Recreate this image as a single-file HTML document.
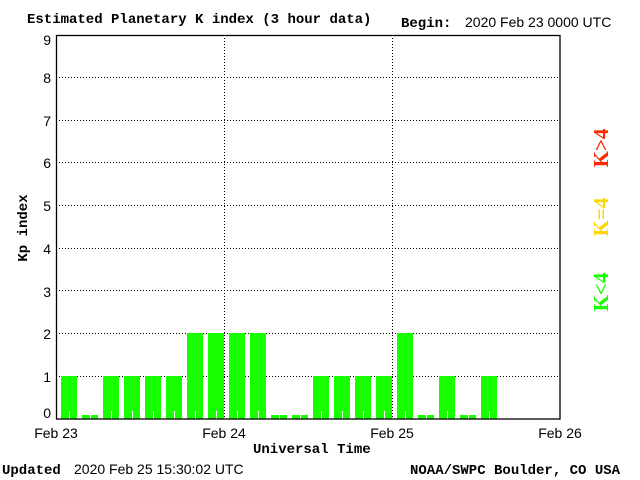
<!DOCTYPE html>
<html><head><style>
html,body{margin:0;padding:0;background:#fff;}
svg{display:block;}
</style></head><body>
<svg width="640" height="480" xmlns="http://www.w3.org/2000/svg">
<rect width="640" height="480" fill="#fff"/>
<g font-family="Liberation Mono, monospace" font-weight="bold" font-size="14" fill="#000">
<text x="27" y="23">Estimated Planetary K index (3 hour data)</text>
<text x="401" y="27">Begin:</text>
<text x="2" y="474">Updated</text>
<text x="410" y="474">NOAA/SWPC Boulder, CO USA</text>
<text x="253" y="453">Universal Time</text>
<text transform="translate(27,228) rotate(-90)" text-anchor="middle">Kp index</text>
</g>
<g font-family="Liberation Sans, sans-serif" font-size="14" fill="#000">
<text x="465" y="27">2020 Feb 23 0000 UTC</text>
<text x="74" y="474">2020 Feb 25 15:30:02 UTC</text>
<text x="56" y="438" text-anchor="middle">Feb 23</text>
<text x="224" y="438" text-anchor="middle">Feb 24</text>
<text x="392" y="438" text-anchor="middle">Feb 25</text>
<text x="560" y="438" text-anchor="middle">Feb 26</text>
<g text-anchor="end">
<text x="51" y="418">0</text><text x="51" y="382">1</text><text x="51" y="339">2</text>
<text x="51" y="297">3</text><text x="51" y="254">4</text><text x="51" y="211">5</text>
<text x="51" y="168">6</text><text x="51" y="126">7</text><text x="51" y="83">8</text>
<text x="51" y="45">9</text>
</g>
</g>
<g stroke="#000" stroke-width="1" stroke-dasharray="1,2">
<line x1="56" x2="560" y1="77.5" y2="77.5"/><line x1="56" x2="560" y1="120.5" y2="120.5"/>
<line x1="56" x2="560" y1="162.5" y2="162.5"/><line x1="56" x2="560" y1="205.5" y2="205.5"/>
<line x1="56" x2="560" y1="248.5" y2="248.5"/><line x1="56" x2="560" y1="290.5" y2="290.5"/>
<line x1="56" x2="560" y1="333.5" y2="333.5"/><line x1="56" x2="560" y1="376.5" y2="376.5"/>
<line x1="224.5" x2="224.5" y1="35" y2="419"/><line x1="392.5" x2="392.5" y1="35" y2="419"/>
</g>
<g fill="#1aff00">
<rect x="61" y="376" width="16" height="43"/>
<rect x="82" y="415" width="16" height="4"/>
<rect x="103" y="376" width="16" height="43"/>
<rect x="124" y="376" width="16" height="43"/>
<rect x="145" y="376" width="16" height="43"/>
<rect x="166" y="376" width="16" height="43"/>
<rect x="187" y="333" width="16" height="86"/>
<rect x="208" y="333" width="16" height="86"/>
<rect x="229" y="333" width="16" height="86"/>
<rect x="250" y="333" width="16" height="86"/>
<rect x="271" y="415" width="16" height="4"/>
<rect x="292" y="415" width="16" height="4"/>
<rect x="313" y="376" width="16" height="43"/>
<rect x="334" y="376" width="16" height="43"/>
<rect x="355" y="376" width="16" height="43"/>
<rect x="376" y="376" width="16" height="43"/>
<rect x="397" y="333" width="16" height="86"/>
<rect x="418" y="415" width="16" height="4"/>
<rect x="439" y="376" width="16" height="43"/>
<rect x="460" y="415" width="16" height="4"/>
<rect x="481" y="376" width="16" height="43"/>
</g>
<g stroke="#fff" stroke-width="1">
<path d="M69.5 411V419M90.5 414V419M111.5 411V419M132.5 411V419M153.5 411V419M174.5 411V419M195.5 411V419M216.5 411V419M237.5 411V419M258.5 411V419M279.5 414V419M300.5 414V419M321.5 411V419M342.5 411V419M363.5 411V419M384.5 411V419M405.5 411V419M426.5 414V419M447.5 411V419M468.5 414V419M489.5 411V419"/>
</g>
<rect x="56.5" y="35.5" width="503.5" height="383.5" fill="none" stroke="#000" stroke-width="1.3"/>
<g font-family="Liberation Serif, serif" font-weight="bold" font-size="21">
<text transform="translate(608,148) rotate(-90)" text-anchor="middle" fill="#ff2a00">K&gt;4</text>
<text transform="translate(608,217) rotate(-90)" text-anchor="middle" fill="#ffd700">K=4</text>
<text transform="translate(608,292) rotate(-90)" text-anchor="middle" fill="#1aff00">K&lt;4</text>
</g>
</svg>
</body></html>
